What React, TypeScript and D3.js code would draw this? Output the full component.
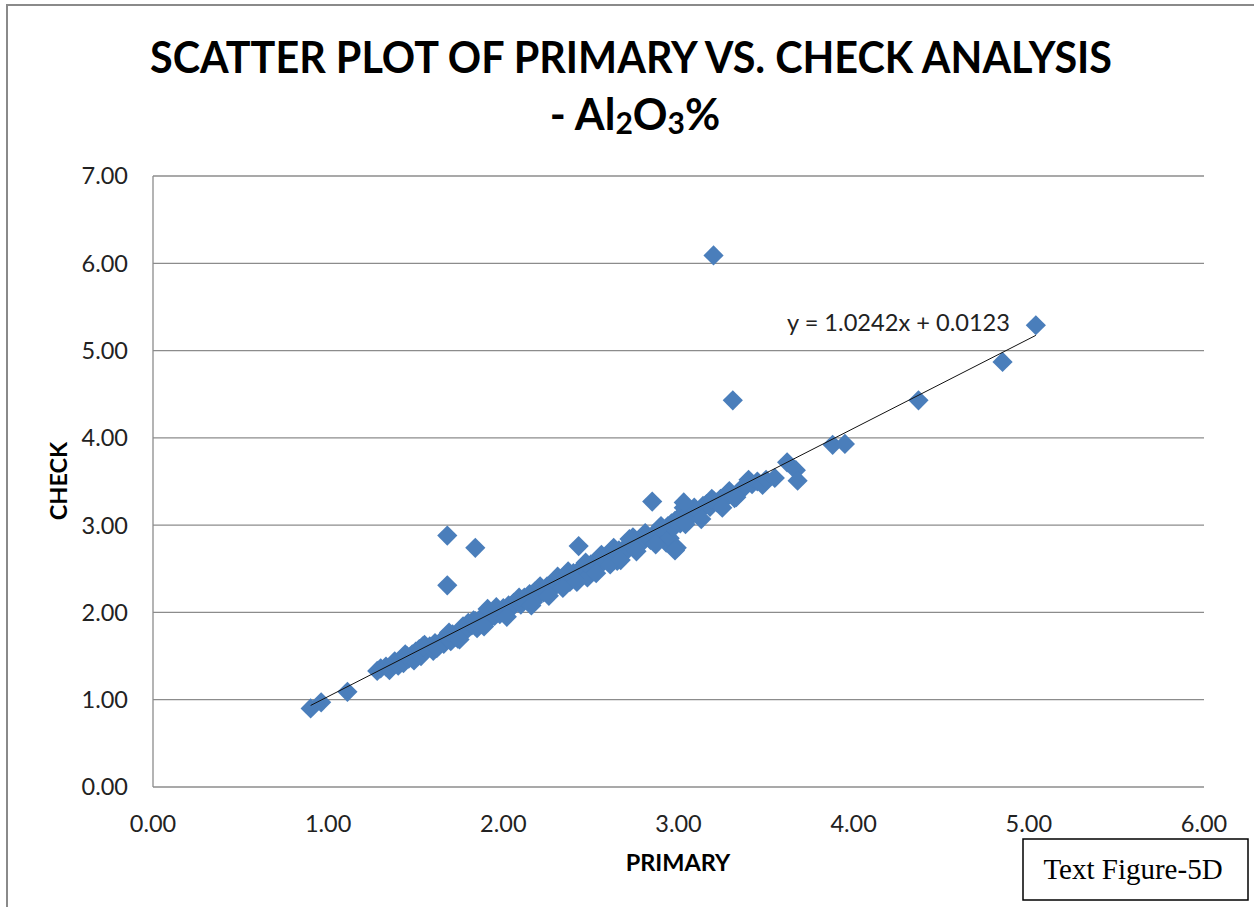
import { useEffect, useRef } from 'react';
import * as d3 from 'd3';

// PRIMARY (x) vs CHECK (y) assay values, Al2O3 %
const primary = [
  0.9, 0.96, 1.11,
  1.28, 1.3, 1.33, 1.35, 1.37, 1.38, 1.4, 1.42, 1.43, 1.45, 1.46, 1.48, 1.49, 1.5,
  1.52, 1.53, 1.55, 1.56, 1.58, 1.6, 1.61, 1.63, 1.65, 1.66, 1.68, 1.7, 1.71, 1.73, 1.74, 1.76, 1.77, 1.79, 1.8,
  1.82, 1.84, 1.85, 1.87, 1.88, 1.9, 1.91, 1.92, 1.94, 1.95, 1.97, 1.98, 2.0, 2.01, 2.03, 2.05, 2.06, 2.08, 2.1,
  2.12, 2.14, 2.15, 2.17, 2.18, 2.2, 2.22, 2.23, 2.25, 2.27, 2.28, 2.3, 2.32, 2.33, 2.35, 2.36, 2.38, 2.4, 2.41, 2.43, 2.45, 2.46, 2.48, 2.5,
  2.52, 2.54, 2.55, 2.57, 2.59, 2.6, 2.62, 2.64, 2.65, 2.66, 2.68, 2.7, 2.71, 2.73, 2.74, 2.75, 2.77, 2.78, 2.8, 2.82, 2.84, 2.86, 2.88, 2.89,
  2.91, 2.92, 2.93, 2.94, 2.95, 2.96, 2.97, 2.98, 2.99, 3.0, 3.01, 3.02, 3.03, 3.05, 3.06, 3.08, 3.1, 3.12, 3.14, 3.16, 3.18, 3.2, 3.22, 3.24, 3.26, 3.28, 3.3, 3.32,
  3.35, 3.38, 3.4, 3.42, 3.45, 3.48, 3.5, 3.55,
  // extra spread in the dense band
  1.44, 1.54, 1.62, 1.69, 1.75, 1.83, 1.89, 1.96, 2.02, 2.09, 2.16, 2.21, 2.26, 2.31, 2.34, 2.37, 2.42, 2.47, 2.53, 2.56, 2.61, 2.63, 2.67, 2.72, 2.76, 2.81, 2.87, 2.9, 3.04, 3.09, 3.13, 3.19, 3.25, 3.29,
  1.68, 1.68, 1.84, 2.43, 2.85, 2.98, 3.03, 3.33, 3.2, 3.31,
  3.62, 3.67, 3.68, 3.88, 3.95, 4.37, 4.85, 5.04,
];
const check = [
  0.9, 0.97, 1.09,
  1.33, 1.36, 1.38, 1.34, 1.41, 1.44, 1.39, 1.46, 1.42, 1.5, 1.47, 1.52, 1.45, 1.55,
  1.58, 1.5, 1.63, 1.57, 1.61, 1.56, 1.65, 1.62, 1.68, 1.64, 1.71, 1.67, 1.75, 1.72, 1.7, 1.78, 1.84, 1.8, 1.88,
  1.85, 1.9, 1.82, 1.93, 1.87, 1.95, 2.04, 1.92, 1.99, 1.96, 2.02, 1.98, 2.05, 2.01, 2.08, 2.06, 2.11, 2.13, 2.09,
  2.17, 2.14, 2.21, 2.12, 2.24, 2.2, 2.27, 2.23, 2.3, 2.26, 2.34, 2.31, 2.37, 2.33, 2.42, 2.38, 2.35, 2.45, 2.41, 2.48, 2.44, 2.51, 2.4, 2.55,
  2.57, 2.53, 2.6, 2.58, 2.63, 2.62, 2.68, 2.64, 2.59, 2.71, 2.7, 2.75, 2.72, 2.78, 2.86, 2.81, 2.79, 2.84, 2.82, 2.87, 2.83, 2.9, 2.86, 2.93,
  2.95, 2.91, 2.8, 2.99, 2.85, 3.02, 2.97, 3.05, 2.74, 3.08, 3.02, 3.12, 3.2, 3.1, 3.14, 3.12, 3.17, 3.16, 3.22, 3.24, 3.21, 3.28, 3.26, 3.3, 3.29, 3.34, 3.36, 3.31,
  3.4, 3.44, 3.52, 3.47, 3.5, 3.46, 3.52, 3.54,
  1.52, 1.61, 1.59, 1.77, 1.69, 1.91, 1.84, 2.06, 1.95, 2.17, 2.08, 2.3, 2.19, 2.41, 2.28, 2.47, 2.35, 2.57, 2.45, 2.66, 2.55, 2.74, 2.6, 2.84, 2.7, 2.91, 2.78, 2.99, 3.01, 3.2, 3.07, 3.3, 3.2, 3.39,
  2.88, 2.31, 2.74, 2.76, 3.27, 2.71, 3.26, 3.32, 6.09, 4.43,
  3.72, 3.63, 3.51, 3.92, 3.93, 4.43, 4.87, 5.29,
];

const xTicks = [0, 1, 2, 3, 4, 5, 6];
const yTicks = [0, 1, 2, 3, 4, 5, 6, 7];
const slope = 1.0242;
const intercept = 0.0123;

const W = 1254;
const H = 907;
const plot = { left: 153, right: 1204, top: 176, bottom: 787 };
const font = 'Lato, "Open Sans", sans-serif';

export default function App() {
  const svgRef = useRef<SVGSVGElement>(null);

  useEffect(() => {
    if (!svgRef.current) return;
    const svg = d3.select(svgRef.current);
    svg.selectAll('*').remove();

    const x = d3.scaleLinear().domain([0, 6]).range([plot.left, plot.right]);
    const y = d3.scaleLinear().domain([0, 7]).range([plot.bottom, plot.top]);

    // outer chart frame
    svg.append('rect')
      .attr('x', 7).attr('y', 5).attr('width', W + 20).attr('height', H + 20)
      .attr('fill', 'white').attr('stroke', '#8a8a8a').attr('stroke-width', 2);

    // gridlines
    svg.append('g')
      .selectAll('line')
      .data(yTicks)
      .join('line')
      .attr('x1', plot.left).attr('x2', plot.right)
      .attr('y1', (d) => y(d)).attr('y2', (d) => y(d))
      .attr('stroke', '#8c8c8c').attr('stroke-width', 1.3);

    // axis line
    svg.append('line')
      .attr('x1', plot.left).attr('x2', plot.left)
      .attr('y1', plot.top).attr('y2', plot.bottom)
      .attr('stroke', '#8c8c8c').attr('stroke-width', 1.3);

    // tick labels
    svg.append('g')
      .selectAll('text')
      .data(yTicks)
      .join('text')
      .attr('x', 128).attr('y', (d) => y(d))
      .attr('dy', '0.36em')
      .attr('text-anchor', 'end')
      .attr('font-family', font).attr('font-size', 23.5).attr('fill', '#222')
      .text((d) => d3.format('.2f')(d));

    svg.append('g')
      .selectAll('text')
      .data(xTicks)
      .join('text')
      .attr('x', (d) => x(d)).attr('y', 832)
      .attr('text-anchor', 'middle')
      .attr('font-family', font).attr('font-size', 23.5).attr('fill', '#222')
      .text((d) => d3.format('.2f')(d));

    // axis titles
    svg.append('text')
      .attr('x', 678).attr('y', 871)
      .attr('text-anchor', 'middle')
      .attr('font-family', font).attr('font-weight', 'bold').attr('font-size', 23.5)
      .text('PRIMARY');
    svg.append('text')
      .attr('transform', 'translate(67,481) rotate(-90)')
      .attr('text-anchor', 'middle')
      .attr('font-family', font).attr('font-weight', 'bold').attr('font-size', 23.5)
      .text('CHECK');

    // points
    const pts = primary.map((p, i) => ({ p, c: check[i] }));
    const diamond = d3.symbol().type((d3 as any).symbolDiamond2 ?? d3.symbolDiamond).size(260);
    svg.append('g')
      .selectAll('path')
      .data(pts)
      .join('path')
      .attr('transform', (d) => `translate(${x(d.p)},${y(d.c)})`)
      .attr('d', diamond() as string)
      .attr('fill', '#4a7ebb');

    // linear trendline over the data range
    const [x0, x1] = d3.extent(primary) as [number, number];
    svg.append('line')
      .attr('x1', x(x0)).attr('y1', y(slope * x0 + intercept))
      .attr('x2', x(x1)).attr('y2', y(slope * x1 + intercept))
      .attr('stroke', '#111').attr('stroke-width', 1);

    svg.append('text')
      .attr('x', 787).attr('y', 331)
      .attr('font-family', font).attr('font-size', 23).attr('fill', '#222')
      .attr('textLength', 223).attr('lengthAdjust', 'spacingAndGlyphs')
      .text(`y = ${slope}x + ${intercept}`);

    // title
    svg.append('text')
      .attr('x', 631).attr('y', 73)
      .attr('text-anchor', 'middle')
      .attr('font-family', font).attr('font-weight', 'bold').attr('font-size', 43)
      .attr('textLength', 962).attr('lengthAdjust', 'spacingAndGlyphs')
      .text('SCATTER PLOT OF PRIMARY VS. CHECK ANALYSIS');
    const t2 = svg.append('text')
      .attr('x', 635).attr('y', 130)
      .attr('text-anchor', 'middle')
      .attr('font-family', font).attr('font-weight', 'bold').attr('font-size', 43);
    t2.append('tspan').text('- Al');
    t2.append('tspan').attr('font-size', 30).attr('dy', 4).text('2');
    t2.append('tspan').attr('dy', -4).text('O');
    t2.append('tspan').attr('font-size', 30).attr('dy', 4).text('3');
    t2.append('tspan').attr('dy', -4).text('%');

    // figure label box
    svg.append('rect')
      .attr('x', 1023).attr('y', 839).attr('width', 225).attr('height', 61)
      .attr('fill', 'white').attr('stroke', '#000').attr('stroke-width', 1.5);
    svg.append('text')
      .attr('x', 1133).attr('y', 879)
      .attr('text-anchor', 'middle')
      .attr('font-family', '"Liberation Serif", "Times New Roman", serif').attr('font-size', 29)
      .text('Text Figure-5D');
  }, []);

  return (
    <svg
      ref={svgRef}
      width={W}
      height={H}
      style={{ position: 'absolute', left: 0, top: 0, background: 'white' }}
    />
  );
}
